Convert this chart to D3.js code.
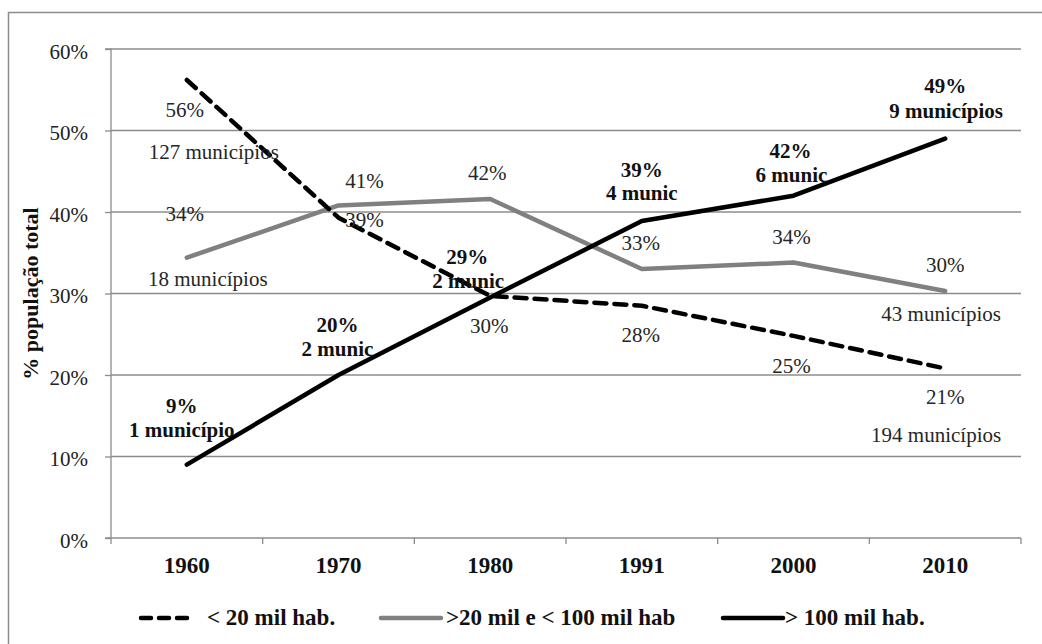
<!DOCTYPE html>
<html><head><meta charset="utf-8">
<script src="https://cdn.jsdelivr.net/npm/d3@7"></script>
<style>body{margin:0;background:#fff;} svg{display:block;}</style>
</head><body><svg id="c" width="1042" height="644"></svg>
<script>
const years = ["1960","1970","1980","1991","2000","2010"];
const small = [56.2, 39.3, 29.7, 28.5, 24.8, 20.8];
const medium = [34.4, 40.8, 41.6, 33.0, 33.8, 30.3];
const large = [9.0, 20.0, 29.5, 38.9, 42.0, 49.0];
const yTicks = [0,10,20,30,40,50,60];
const seriesNames = ["< 20 mil hab.", ">20 mil e < 100 mil hab", "> 100 mil hab."];
// annotations: [series, year index, text, bold, dx, baseline offset from point]
const annotations = [
  ["small",0,"56%",false,-2,37],["small",0,"127 municípios",false,27,79],
  ["medium",0,"34%",false,-2,-37],["medium",0,"18 municípios",false,21,28],
  ["medium",1,"41%",false,26,-17],["small",1,"39%",false,26,9],
  ["medium",2,"42%",false,-3,-19],["small",2,"30%",false,-1,37],
  ["large",2,"29%",true,-23,-34],["large",2,"2 munic",true,-22,-10],
  ["large",1,"20%",true,-1,-43],["large",1,"2 munic",true,-1,-19],
  ["large",0,"9%",true,-5,-52],["large",0,"1 município",true,-5,-28],
  ["large",3,"39%",true,0,-44],["large",3,"4 munic",true,0,-21],
  ["medium",3,"33%",false,-1,-19],["small",3,"28%",false,-1,36],
  ["large",4,"42%",true,-3,-38],["large",4,"6 munic",true,-2,-14],
  ["medium",4,"34%",false,-2,-19],["small",4,"25%",false,-2,37],
  ["large",5,"49%",true,0,-46],["large",5,"9 municípios",true,1,-21],
  ["medium",5,"30%",false,0,-19],["medium",5,"43 municípios",false,-4,30],
  ["small",5,"21%",false,0,36],["small",5,"194 municípios",false,-9,74]
];
const dataMap = {small, medium, large};
const FONT = "Liberation Serif";

const svg = d3.select("#c");
const m = {left:111, top:49, right:1021, bottom:538};

svg.append("rect").attr("x",8.5).attr("y",12.5).attr("width",1050).attr("height",650)
  .attr("fill","none").attr("stroke","#8c8c8c").attr("stroke-width",1.5);

const x = d3.scaleBand().domain(years).range([m.left, m.right]);
const y = d3.scaleLinear().domain([0,60]).range([m.bottom, m.top]);

svg.append("g").selectAll("line").data(yTicks.filter(d=>d>0)).join("line")
  .attr("x1",m.left).attr("x2",m.right).attr("y1",d=>y(d)).attr("y2",d=>y(d))
  .attr("stroke","#8c8c8c").attr("stroke-width",1.3);

const ya = svg.append("g").attr("transform",`translate(${m.left},0)`)
  .call(d3.axisLeft(y).tickValues(yTicks).tickFormat(d=>d+"%").tickSize(6).tickPadding(17));
ya.attr("font-family",FONT).attr("font-size",21);
ya.select(".domain").attr("stroke","#8c8c8c").attr("stroke-width",1.3).attr("d",`M-6,${m.top}H0V${m.bottom}H-6`);
ya.selectAll(".tick line").attr("stroke","#8c8c8c").attr("stroke-width",1.3);
ya.selectAll("text").attr("fill","#222").attr("dy","0.45em");

const xa = svg.append("g").attr("transform",`translate(0,${m.bottom})`);
xa.append("line").attr("x1",m.left).attr("x2",m.right).attr("stroke","#8c8c8c").attr("stroke-width",1.3);
const edges = years.map(d=>x(d)).concat([m.right]);
xa.selectAll(".t").data(edges).join("line").attr("x1",d=>d).attr("x2",d=>d).attr("y1",0).attr("y2",6)
  .attr("stroke","#8c8c8c").attr("stroke-width",1.3);
xa.selectAll("text").data(years).join("text").attr("x",d=>x(d)+x.bandwidth()/2).attr("y",35)
  .attr("text-anchor","middle").attr("font-weight","bold").attr("font-size",23).attr("fill","#111")
  .attr("font-family",FONT).text(d=>d);

svg.append("text").attr("transform",`translate(38,${(m.top+m.bottom)/2}) rotate(-90)`)
  .attr("text-anchor","middle").attr("font-weight","bold").attr("font-size",22).attr("fill","#111")
  .attr("font-family",FONT).text("% população total");

const cx = d => x(d)+x.bandwidth()/2;
const line = d3.line().x((d,i)=>cx(years[i])).y(d=>y(d));
const styles = {
  small:{stroke:"#000",dash:"12,8",w:4.5},
  medium:{stroke:"#808080",dash:null,w:4.5},
  large:{stroke:"#000",dash:null,w:4.5}
};
["medium","small","large"].forEach(k=>{
  svg.append("path").datum(dataMap[k]).attr("d",line).attr("fill","none")
    .attr("stroke",styles[k].stroke).attr("stroke-width",styles[k].w)
    .attr("stroke-dasharray",styles[k].dash).attr("stroke-linejoin","round").attr("stroke-linecap","round");
});

svg.append("g").selectAll("text").data(annotations).join("text")
  .attr("x",d=>cx(years[d[1]])+d[4]).attr("y",d=>y(dataMap[d[0]][d[1]])+d[5])
  .attr("text-anchor","middle").attr("font-size",21).attr("font-weight",d=>d[3]?"bold":"normal")
  .attr("font-family",FONT).attr("fill",d=>d[3]?"#111":"#262626").text(d=>d[2]);

const leg = [
  {k:"small",x1:141,x2:192,tx:207},
  {k:"medium",x1:381,x2:441,tx:446},
  {k:"large",x1:723,x2:783,tx:785}
];
const lg = svg.append("g");
leg.forEach((l,i)=>{
  lg.append("line").attr("x1",l.x1).attr("x2",l.x2).attr("y1",618).attr("y2",618)
    .attr("stroke",styles[l.k].stroke).attr("stroke-width",4.5)
    .attr("stroke-dasharray",l.k==="small"?"10,8":null).attr("stroke-linecap","round");
  lg.append("text").attr("x",l.tx).attr("y",625).attr("font-weight","bold").attr("font-size",23)
    .attr("font-family",FONT).attr("fill","#111").text(seriesNames[i]);
});
</script></body></html>
